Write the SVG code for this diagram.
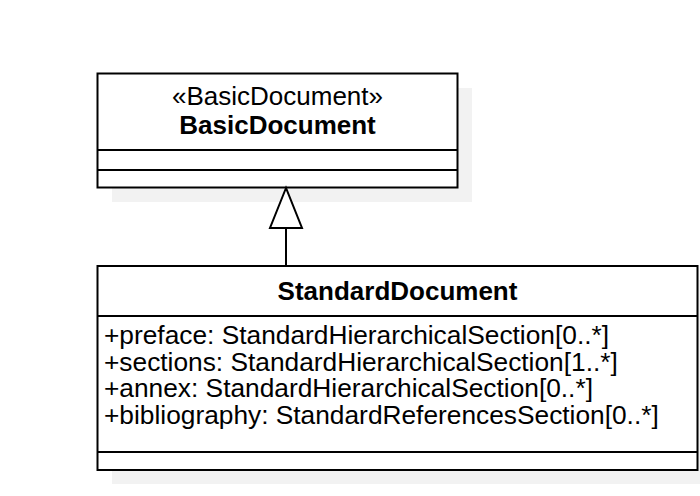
<svg xmlns="http://www.w3.org/2000/svg" width="700" height="496" viewBox="0 0 700 496">
<style>
.shadow{fill:#f2f2f2;stroke:none}
.box{fill:#ffffff;stroke:#000000;stroke-width:2}
.sep{stroke:#000000;stroke-width:2;fill:none}
.t{font-family:"Liberation Sans",Arial,sans-serif;font-size:26px;fill:#000000}
.a{font-size:26.3px}
.b{font-weight:bold}
.c{text-anchor:middle}
</style>
<rect width="700" height="496" fill="#ffffff"/>
<g id="BasicDocument">
<rect class="shadow" x="112" y="88" width="360" height="114"/>
<rect class="box" x="97.5" y="73.5" width="360" height="114"/>
<line class="sep" x1="97.5" y1="150" x2="457.5" y2="150"/>
<line class="sep" x1="97.5" y1="170" x2="457.5" y2="170"/>
<text class="t c" x="277.5" y="105">«BasicDocument»</text>
<text class="t b c" x="277.5" y="134">BasicDocument</text>
</g>
<g id="StandardDocument">
<rect class="shadow" x="112" y="280" width="600" height="204"/>
<rect class="box" x="97.5" y="266" width="600" height="204"/>
<line class="sep" x1="97.5" y1="316" x2="697.5" y2="316"/>
<line class="sep" x1="97.5" y1="452" x2="697.5" y2="452"/>
<text class="t b c" x="397.5" y="300">StandardDocument</text>
<text class="t a" x="104" y="344">+preface: StandardHierarchicalSection[0..*]</text>
<text class="t a" x="104" y="370.5">+sections: StandardHierarchicalSection[1..*]</text>
<text class="t a" x="104" y="397">+annex: StandardHierarchicalSection[0..*]</text>
<text class="t a" x="104" y="424">+bibliography: StandardReferencesSection[0..*]</text>
</g>
<g id="connectors">
<line x1="286" y1="228" x2="286" y2="266" stroke="#000000" stroke-width="2"/>
<polygon points="286,188 270,228 302,228" fill="#ffffff" stroke="#000000" stroke-width="2"/>
</g>
</svg>
